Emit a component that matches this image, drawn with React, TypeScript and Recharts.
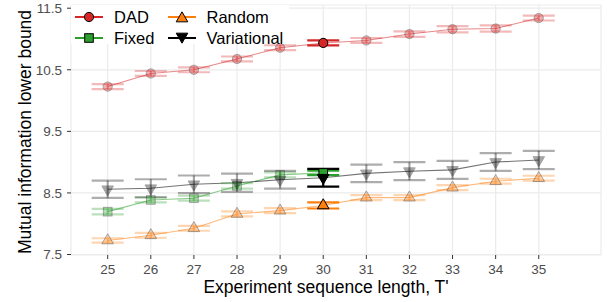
import React from 'react';
import {
  ComposedChart,
  Line,
  Scatter,
  XAxis,
  YAxis,
  CartesianGrid,
  ErrorBar,
  ReferenceArea,
} from 'recharts';

// ---- data ----
const lengths = [25, 26, 27, 28, 29, 30, 31, 32, 33, 34, 35];
const fixedLengths = [25, 26, 27, 28, 29, 30];

const dadMean = [10.227, 10.44, 10.5, 10.676, 10.858, 10.936, 10.976, 11.08, 11.159, 11.17, 11.34];
const dadErr = [0.04, 0.04, 0.04, 0.04, 0.04, 0.04, 0.04, 0.045, 0.05, 0.05, 0.04];

const fixedMean = [8.196, 8.386, 8.414, 8.614, 8.793, 8.825];
const fixedErr = [0.045, 0.04, 0.04, 0.045, 0.04, 0.035];

const randomMean = [7.728, 7.812, 7.926, 8.159, 8.212, 8.297, 8.424, 8.424, 8.586, 8.69, 8.739];
const randomErr = [0.036, 0.04, 0.04, 0.04, 0.04, 0.05, 0.04, 0.04, 0.04, 0.04, 0.04];

const variationalMean = [8.559, 8.576, 8.64, 8.665, 8.714, 8.746, 8.817, 8.853, 8.874, 9.002, 9.034];
const variationalErr = [0.14, 0.146, 0.143, 0.149, 0.144, 0.144, 0.143, 0.146, 0.146, 0.144, 0.149];

const highlightLength = 30;
const xTicks = [25, 26, 27, 28, 29, 30, 31, 32, 33, 34, 35];
const yTicks = [7.5, 8.5, 9.5, 10.5, 11.5];

const FONT = '"Liberation Sans", Arial, Helvetica, sans-serif';

type ShapeKind = 'circle' | 'square' | 'up' | 'down';

const build = (xs: number[], ys: number[], es: number[]) =>
  xs.map((x, i) => ({ x, y: ys[i], err: es[i] }));

const series = [
  { name: 'DAD', color: '#d62728', rgb: '214,39,40', shape: 'circle' as ShapeKind, data: build(lengths, dadMean, dadErr) },
  { name: 'Fixed', color: '#2ca02c', rgb: '44,160,44', shape: 'square' as ShapeKind, data: build(fixedLengths, fixedMean, fixedErr) },
  { name: 'Random', color: '#ff7f0e', rgb: '255,127,14', shape: 'up' as ShapeKind, data: build(lengths, randomMean, randomErr) },
  { name: 'Variational', color: '#000000', rgb: '0,0,0', shape: 'down' as ShapeKind, data: build(lengths, variationalMean, variationalErr) },
];

function Marker({ cx, cy, kind, color, opacity }: { cx: number; cy: number; kind: ShapeKind; color: string; opacity: number }) {
  const common = { fill: color, stroke: '#000', strokeWidth: 1, opacity };
  if (kind === 'circle') return <circle cx={cx} cy={cy} r={4.6} {...common} />;
  if (kind === 'square') return <rect x={cx - 4.3} y={cy - 4.3} width={8.6} height={8.6} {...common} />;
  const h = 10;
  const w = 5.8;
  if (kind === 'up')
    return <polygon points={`${cx},${cy - (2 * h) / 3} ${cx - w},${cy + h / 3} ${cx + w},${cy + h / 3}`} {...common} />;
  return <polygon points={`${cx},${cy + (2 * h) / 3} ${cx - w},${cy - h / 3} ${cx + w},${cy - h / 3}`} {...common} />;
}

const makeShape = (kind: ShapeKind, color: string, opacity: number) => (props: any) => {
  const { cx, cy } = props;
  if (cx == null || cy == null) return <g />;
  return <Marker cx={cx} cy={cy} kind={kind} color={color} opacity={opacity} />;
};

function LegendKey({ kind, color }: { kind: ShapeKind; color: string }) {
  return (
    <svg width={28} height={14} style={{ display: 'block' }}>
      <line x1={0} y1={7} x2={28} y2={7} stroke={color} strokeWidth={2} />
      <Marker cx={14} cy={kind === 'up' ? 8.5 : kind === 'down' ? 5.5 : 7} kind={kind} color={color} opacity={1} />
    </svg>
  );
}

function LegendBox() {
  const pos = [
    { left: 4, top: 5 },
    { left: 4, top: 25.5 },
    { left: 96.5, top: 5 },
    { left: 96.5, top: 25.5 },
  ];
  return (
    <div
      style={{
        position: 'absolute',
        left: 71,
        top: 5,
        width: 218,
        height: 39,
        background: '#ffffff',
        fontFamily: FONT,
        fontSize: 16.5,
        color: '#000',
      }}
    >
      {series.map((s, i) => (
        <div key={s.name} style={{ position: 'absolute', left: pos[i].left, top: pos[i].top, display: 'flex', alignItems: 'center', height: 14 }}>
          <LegendKey kind={s.shape} color={s.color} />
          <span style={{ marginLeft: 11, lineHeight: '14px', whiteSpace: 'nowrap' }}>{s.name}</span>
        </div>
      ))}
    </div>
  );
}

const YTitle = (props: any) => {
  const vb = props.viewBox || { x: 0, y: 0, width: 0, height: 0 };
  const cx = vb.x + 25;
  const cy = vb.y + vb.height / 2 + 2;
  return (
    <text
      x={cx}
      y={cy}
      transform={`rotate(-90, ${cx}, ${cy})`}
      textAnchor="middle"
      dominantBaseline="central"
      fontFamily={FONT}
      fontSize={17.5}
      fill="#000"
    >
      Mutual information lower bound
    </text>
  );
};

const XTitle = (props: any) => {
  const vb = props.viewBox || { x: 0, y: 0, width: 0, height: 0 };
  return (
    <text x={vb.x + vb.width / 2 - 10} y={vb.y + 38} textAnchor="middle" fontFamily={FONT} fontSize={17.5} fill="#000">
      Experiment sequence length, T'
    </text>
  );
};

export default function App() {
  return (
    <div style={{ position: 'absolute', left: 0, top: 0, width: 607, height: 302, background: '#fff' }}>
      <ComposedChart width={607} height={302} margin={{ top: 5, right: 6, bottom: 0, left: 0 }}>
        <CartesianGrid stroke="#ebebeb" strokeWidth={1.2} />
        <XAxis
          dataKey="x"
          type="number"
          domain={[24.149, 36.444]}
          allowDataOverflow
          ticks={xTicks}
          interval={0}
          height={47}
          axisLine={false}
          tickLine={{ stroke: '#333333' }}
          tickSize={4}
          tickMargin={5}
          tick={{ fill: '#4d4d4d', fontSize: 13.5, fontFamily: FONT }}
          label={<XTitle />}
        />
        <YAxis
          type="number"
          domain={[7.492, 11.552]}
          allowDataOverflow
          ticks={yTicks}
          interval={0}
          width={71}
          axisLine={false}
          tickLine={{ stroke: '#333333' }}
          tickSize={4}
          tickMargin={5}
          tickFormatter={(v: number) => v.toFixed(1)}
          tick={{ fill: '#4d4d4d', fontSize: 13.5, fontFamily: FONT }}
          label={<YTitle />}
        />
        {series.map((s) => (
          <Line
            key={`line-${s.name}`}
            data={s.data}
            dataKey="y"
            type="linear"
            stroke={`rgba(${s.rgb},0.55)`}
            strokeWidth={1.1}
            dot={false}
            activeDot={false}
            isAnimationActive={false}
            legendType="none"
          />
        ))}
        {series.map((s) => (
          <Scatter
            key={`faded-${s.name}`}
            data={s.data.filter((d) => d.x !== highlightLength)}
            dataKey="y"
            shape={makeShape(s.shape, s.color, 0.35)}
            isAnimationActive={false}
          >
            <ErrorBar dataKey="err" direction="y" width={16} strokeWidth={2.2} stroke={`rgba(${s.rgb},0.32)`} />
          </Scatter>
        ))}
        {series.map((s) => (
          <Scatter
            key={`hl-${s.name}`}
            data={s.data.filter((d) => d.x === highlightLength)}
            dataKey="y"
            shape={makeShape(s.shape, s.color, 1)}
            isAnimationActive={false}
          >
            <ErrorBar dataKey="err" direction="y" width={16} strokeWidth={2.2} stroke={s.color} />
          </Scatter>
        ))}
        <ReferenceArea fill="none" stroke="#333333" strokeWidth={1.2} fillOpacity={0} />
      </ComposedChart>
      <LegendBox />
    </div>
  );
}
